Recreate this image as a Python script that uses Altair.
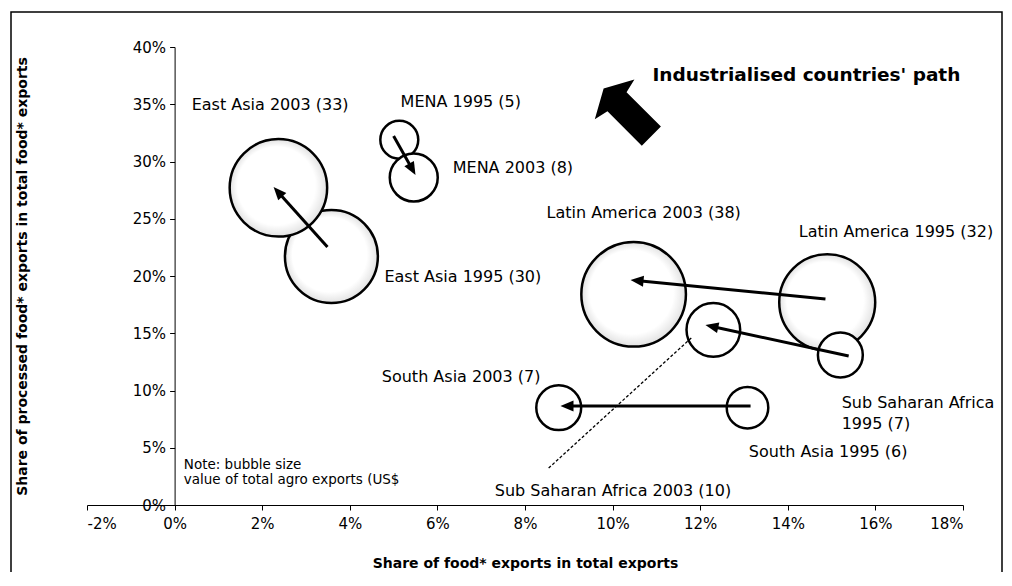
import math
import altair as alt
import pandas as pd

# ---------------- data ----------------
bubble_name = ["Latin America 1995", "Latin America 2003", "East Asia 1995", "East Asia 2003",
               "MENA 1995", "MENA 2003", "Sub Saharan Africa 2003", "Sub Saharan Africa 1995",
               "South Asia 1995", "South Asia 2003"]
bubble_x = [0.149, 0.1048, 0.0358, 0.0237, 0.0513, 0.0546, 0.123, 0.152, 0.1308, 0.0877]
bubble_y = [0.177, 0.184, 0.217, 0.277, 0.319, 0.286, 0.153, 0.131, 0.085, 0.085]
bubble_value = [32, 38, 30, 33, 5, 8, 10, 7, 6, 7]

label_text = ["East Asia 2003 (33)", "MENA 1995 (5)", "MENA 2003 (8)", "Latin America 2003 (38)",
              "Latin America 1995 (32)", "East Asia 1995 (30)", "South Asia 2003 (7)",
              "Sub Saharan Africa\n1995 (7)", "South Asia 1995 (6)", "Sub Saharan Africa 2003 (10)"]
label_x = [0.0039, 0.0516, 0.0635, 0.0849, 0.1425, 0.0479, 0.0473, 0.1523, 0.1311, 0.0731]
label_y = [0.3493, 0.352, 0.2943, 0.255, 0.2384, 0.1991, 0.1118, 0.0895, 0.0463, 0.0122]

arrow_from_x = [0.0349, 0.0500, 0.1486, 0.1539, 0.1315]
arrow_from_y = [0.2253, 0.3223, 0.1799, 0.1301, 0.0865]
arrow_to_x = [0.0226, 0.0550, 0.1041, 0.1212, 0.0881]
arrow_to_y = [0.2777, 0.2882, 0.1965, 0.1572, 0.0865]

leader_x = [0.0854, 0.1182]
leader_y = [0.0323, 0.1467]

note_text = ["Note: bubble size\nvalue of total agro exports (US$"]
note_x = [0.0021]
note_y = [0.0345]

path_text = ["Industrialised countries' path"]
path_x = [0.1091]
path_y = [0.3755]
big_arrow_x = [0.1034]
big_arrow_y = [0.343]

x_ticks = [-0.02, 0.0, 0.02, 0.04, 0.06, 0.08, 0.10, 0.12, 0.14, 0.16, 0.18]
y_ticks = [0.0, 0.05, 0.10, 0.15, 0.20, 0.25, 0.30, 0.35, 0.40]

# ---------------- layout ----------------
W, H = 876, 458
X_DOM = [-0.02, 0.18]
Y_DOM = [0.0, 0.40]
PX_X = W / (X_DOM[1] - X_DOM[0])
PX_Y = H / (Y_DOM[1] - Y_DOM[0])
FONT = "DejaVu Sans"
Y_AXIS_AT = (0.0 - X_DOM[0]) * PX_X  # pixel offset of x = 0 from the plot's left edge

bubbles = pd.DataFrame({"name": bubble_name, "x": bubble_x, "y": bubble_y,
                        "value": bubble_value, "z": list(range(len(bubble_name)))})
bubbles["big"] = bubbles["value"] >= 30

labels = pd.DataFrame({"text": label_text, "x": label_x, "y": label_y})

arrows = pd.DataFrame({"x": arrow_from_x, "y": arrow_from_y, "tx": arrow_to_x, "ty": arrow_to_y})
dxp = (arrows["tx"] - arrows["x"]) * PX_X
dyp = -(arrows["ty"] - arrows["y"]) * PX_Y
lenp = (dxp ** 2 + dyp ** 2) ** 0.5
arrows["angle"] = [(math.degrees(math.atan2(a, -b)) + 360) % 360 for a, b in zip(dxp, dyp)]
arrows["ex"] = arrows["tx"] - (dxp / lenp) * 8 / PX_X
arrows["ey"] = arrows["ty"] + (dyp / lenp) * 8 / PX_Y

leader = pd.DataFrame({"x": [leader_x[0]], "y": [leader_y[0]], "x2": [leader_x[1]], "y2": [leader_y[1]]})
note = pd.DataFrame({"text": note_text, "x": note_x, "y": note_y})
path_df = pd.DataFrame({"text": path_text, "x": path_x, "y": path_y})
big_arrow = pd.DataFrame({"x": big_arrow_x, "y": big_arrow_y})

xs = alt.Scale(domain=X_DOM, nice=False, zero=False)
ys = alt.Scale(domain=Y_DOM, nice=False, zero=False)
size_scale = alt.Scale(type="linear", domain=[0, 38], range=[0, 10940])

x_axis = alt.Axis(values=x_ticks, labelExpr="round(datum.value*100) + '%'",
                  title="Share of food* exports in total exports", titleY=58,
                  titleBaseline="middle", grid=False, labelPadding=6)
y_axis = alt.Axis(values=y_ticks, labelExpr="round(datum.value*100) + '%'",
                  title="Share of processed food* exports in total food* exports",
                  offset=-Y_AXIS_AT, titleX=22 - 87 - Y_AXIS_AT, titleY=229, titleAngle=270,
                  titleAlign="center", titleBaseline="middle", grid=False, labelPadding=4)

X = alt.X("x:Q", scale=xs, axis=x_axis)
Y = alt.Y("y:Q", scale=ys, axis=y_axis)

frame = alt.Chart(pd.DataFrame({"a": [0]})).mark_rect(
    fill=None, stroke="black", strokeWidth=1.5
).encode(x=alt.value(-76), x2=alt.value(915), y=alt.value(-35), y2=alt.value(600))

grad = alt.RadialGradient(
    gradient="radial",
    stops=[alt.GradientStop(offset=0, color="#ffffff"),
           alt.GradientStop(offset=0.8, color="#ffffff"),
           alt.GradientStop(offset=1, color="#e2e2e2")],
    x1=0.4, y1=0.4, r1=0, x2=0.5, y2=0.5, r2=0.5)

big_b = alt.Chart(bubbles).transform_filter("datum.big").mark_circle(
    fill=grad, stroke="black", strokeWidth=2.5, opacity=1
).encode(x=X, y=Y, size=alt.Size("value:Q", scale=size_scale, legend=None),
         order=alt.Order("z:Q"))

small_b = alt.Chart(bubbles).transform_filter("!datum.big").mark_circle(
    fill="white", stroke="black", strokeWidth=2.5, opacity=1
).encode(x=alt.X("x:Q", scale=xs), y=alt.Y("y:Q", scale=ys),
         size=alt.Size("value:Q", scale=size_scale, legend=None),
         order=alt.Order("z:Q"))

arrow_lines = alt.Chart(arrows).mark_rule(color="black", strokeWidth=3, strokeCap="butt").encode(
    x=alt.X("x:Q", scale=xs), y=alt.Y("y:Q", scale=ys), x2="ex:Q", y2="ey:Q")

arrow_heads = alt.Chart(arrows).mark_point(
    shape="M0,0 L0.42,1 L-0.42,1 Z", filled=True, color="black", opacity=1, size=676
).encode(x=alt.X("tx:Q", scale=xs), y=alt.Y("ty:Q", scale=ys),
         angle=alt.Angle("angle:Q", scale=None))

leader_line = alt.Chart(leader).mark_rule(color="black", strokeWidth=1.3, strokeDash=[3, 2]).encode(
    x=alt.X("x:Q", scale=xs), y=alt.Y("y:Q", scale=ys), x2="x2:Q", y2="y2:Q")

label_layer = alt.Chart(labels).mark_text(
    align="left", baseline="middle", font=FONT, fontSize=16, color="black",
    lineBreak="\n", lineHeight=21
).encode(x=alt.X("x:Q", scale=xs), y=alt.Y("y:Q", scale=ys), text="text:N")

note_layer = alt.Chart(note).mark_text(
    align="left", baseline="middle", font=FONT, fontSize=13.5, color="black",
    lineBreak="\n", lineHeight=15
).encode(x=alt.X("x:Q", scale=xs), y=alt.Y("y:Q", scale=ys), text="text:N")

big_arrow_layer = alt.Chart(big_arrow).mark_point(
    shape="M0,-1 L0.83,-0.54 L0.4,-0.44 L0.4,1 L-0.4,1 L-0.4,-0.44 L-0.83,-0.54 Z",
    filled=True, color="black", opacity=1, size=4556, angle=315
).encode(x=alt.X("x:Q", scale=xs), y=alt.Y("y:Q", scale=ys))

path_layer = alt.Chart(path_df).mark_text(
    align="left", baseline="middle", font=FONT, fontSize=18.5, fontWeight="bold", color="black"
).encode(x=alt.X("x:Q", scale=xs), y=alt.Y("y:Q", scale=ys), text="text:N")

chart = alt.layer(
    frame, big_b, small_b, arrow_lines, arrow_heads, leader_line,
    label_layer, note_layer, big_arrow_layer, path_layer
).properties(
    width=W, height=H,
    autosize=alt.AutoSizeParams(type="none"),
    padding={"left": 79, "top": 39, "right": 41, "bottom": 67},
    background="white",
).configure_view(stroke=None).configure_axis(
    domainColor="black", tickColor="black", domainWidth=1, tickWidth=1, tickSize=5,
    labelFont=FONT, labelFontSize=15, labelColor="black",
    titleFont=FONT, titleFontSize=14, titleFontWeight="bold", titleColor="black",
)

chart.save("out.html", embed_options={"renderer": "svg", "actions": False})
